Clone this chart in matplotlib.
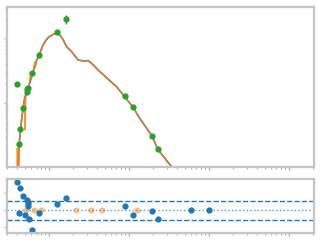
import numpy as np
import matplotlib
matplotlib.use("Agg")
import matplotlib.pyplot as plt

# photometry shown in the SED panel (wavelength in micron, flux arbitrary units)
phot_wave = [0.402, 0.425, 0.438, 0.477, 0.526, 0.535, 0.546, 0.618, 0.756,
             1.27, 1.65, 8.91, 11.3, 19.5, 23.0, 60.8, 101.0]
phot_flux = [1.99, 0.233, 0.397, 0.846, 1.64, 1.51, 1.74, 2.90, 5.56,
             12.5, 20.0, 1.30, 0.868, 0.313, 0.195, 0.040, 0.017]
phot_err = [0.06, 0.01, 0.02, 0.03, 0.06, 0.05, 0.06, 0.10, 0.50,
            0.40, 3.4, 0.05, 0.04, 0.015, 0.01, 0.004, 0.002]

# smooth (binned) model
model_wave = [0.405, 0.428, 0.440, 0.460, 0.487, 0.516, 0.546, 0.579, 0.631,
              0.702, 0.756, 0.825, 0.891, 0.98, 1.13, 1.27, 1.37, 1.51, 1.66,
              1.92, 2.32, 2.68, 3.10, 3.42, 4.34, 7.02, 11.3, 13.7, 19.5,
              23.0, 34.2, 57.9, 77.2]
model_flux = [0.078, 0.271, 0.401, 0.637, 1.05, 1.44, 1.72, 2.13, 3.04,
              4.66, 5.56, 7.47, 8.93, 10.4, 11.6, 12.0, 11.3, 9.48, 7.47,
              6.25, 4.66, 4.50, 4.54, 4.14, 3.07, 1.80, 0.868, 0.587, 0.313,
              0.195, 0.105, 0.0459, 0.0279]

# high resolution model, blue end with absorption features
hires_wave = [0.398, 0.402, 0.405, 0.407, 0.410, 0.413, 0.416, 0.419, 0.428,
              0.440, 0.460, 0.487, 0.495, 0.504, 0.513, 0.546, 0.571, 0.582,
              0.592, 0.631, 0.664, 0.678, 0.702]
hires_flux = [0.078, 0.204, 0.09, 0.19, 0.085, 0.190, 0.09, 0.100, 0.271,
              0.401, 0.637, 1.05, 1.21, 0.387, 1.30, 1.72, 2.06, 2.64,
              2.29, 3.04, 4.34, 3.63, 4.66]

# residuals
resid_wave = [0.402, 0.425, 0.438, 0.473, 0.505, 0.535, 0.551, 0.551, 0.557,
              0.618, 0.756, 1.27, 1.65, 8.91, 11.3, 19.5, 23.0, 60.8, 101.0]
resid_val = [1.66, -0.20, 1.30, 0.82, -0.28, 0.62, 0.40, 0.26, -0.56,
             -1.22, -0.20, 0.34, 0.70, 0.22, -0.32, -0.06, -0.56, -0.02, -0.02]
excl_wave = [0.52, 0.655, 0.80, 2.2, 3.4, 4.6, 12.5]
excl_val = [0, 0, 0, 0, 0, 0, 0]
band_hi, band_lo = 0.54, -0.60

fig = plt.figure(figsize=(3.2, 2.4), dpi=100)
ax = fig.add_axes([0.022, 0.304, 0.958, 0.667])
axr = fig.add_axes([0.022, 0.029, 0.958, 0.225])

hw = list(hires_wave) + list(model_wave[10:])
hf = list(hires_flux) + list(model_flux[10:])
ax.plot(model_wave, model_flux, color='C0', lw=1.2)
ax.plot(hw, hf, color='C1', lw=1.0, alpha=0.85)
ax.errorbar(phot_wave, phot_flux, yerr=phot_err, fmt='o', color='C2',
            ms=3.5, elinewidth=1, capsize=0)

ax.set_xscale('log')
ax.set_yscale('log')
ax.set_xlim(10**-0.525, 10**3.3125)
ax.set_ylim(10**-0.983, 10**1.486)

axr.plot(excl_wave, excl_val, 'o', color='C1', ms=3.5, alpha=0.4)
axr.plot(resid_wave, resid_val, 'o', color='C0', ms=3.5)
axr.axhline(0, color='C0', ls=':', lw=1, alpha=0.7)
axr.axhline(band_hi, color='C0', ls='--', lw=1)
axr.axhline(band_lo, color='C0', ls='--', lw=1)
axr.set_xscale('log')
axr.set_xlim(10**-0.525, 10**3.3125)
axr.set_ylim(-1.38, 1.86)
axr.set_yticks([-1, 0, 1])

for a in (ax, axr):
    for s in a.spines.values():
        s.set_color('#c4c4c4')
        s.set_linewidth(1.6)
    a.tick_params(which='both', colors='#b0b0b0', labelleft=False,
                  labelbottom=False)
    a.tick_params(which='major', length=2.5, width=1)
    a.tick_params(which='minor', length=1.5, width=0.8)

fig.savefig('out.png', dpi=100)
